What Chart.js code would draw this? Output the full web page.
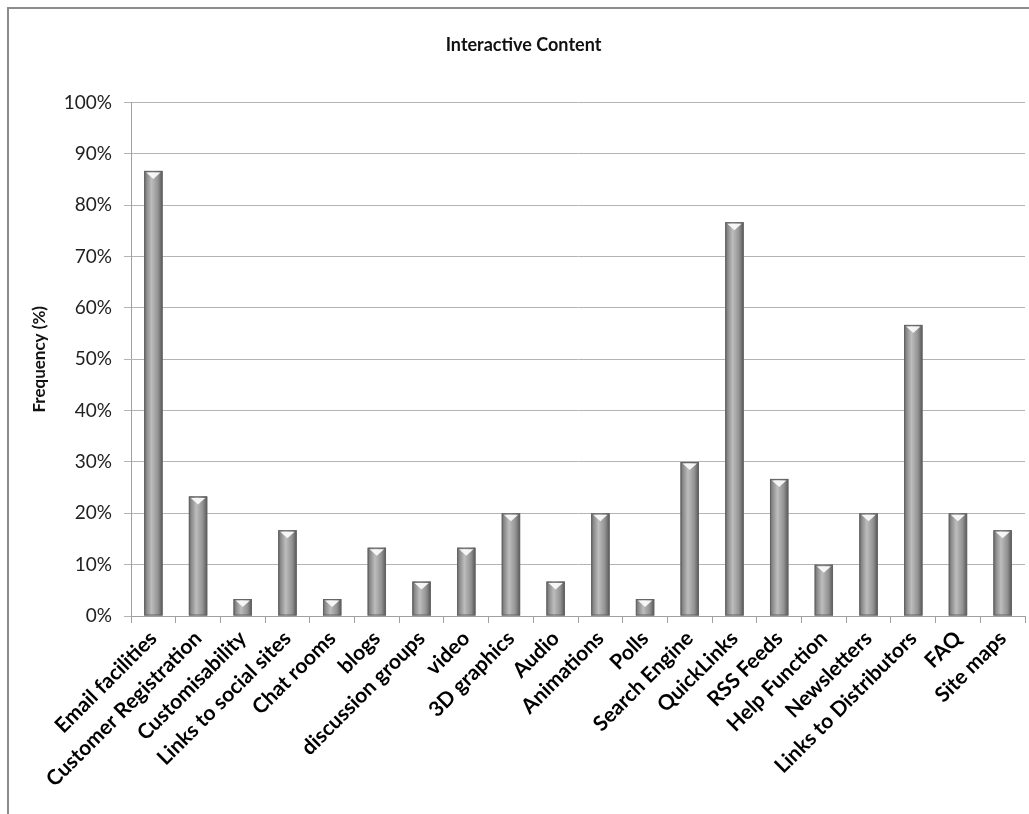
<!DOCTYPE html>
<html>
<head>
<meta charset="utf-8">
<script src="https://cdn.jsdelivr.net/npm/chart.js@4"></script>
<style>
  body { margin: 0; background: #fff; overflow: hidden; }
  #frame { position: absolute; left: 7px; top: 7px; width: 1100px; height: 900px; border: 2px solid #8c8c8c; }
  #wrap { position: absolute; left: 0; top: 0; width: 1029px; height: 814px; }
</style>
</head>
<body>
<div id="frame"></div>
<div id="wrap"><canvas id="chart"></canvas></div>
<script>
// data
const categories = ['Email facilities', 'Customer Registration', 'Customisability', 'Links to social sites',
    'Chat rooms', 'blogs', 'discussion groups', 'video', '3D graphics', 'Audio', 'Animations', 'Polls',
    'Search Engine', 'QuickLinks', 'RSS Feeds', 'Help Function', 'Newsletters', 'Links to Distributors',
    'FAQ', 'Site maps'];
const frequency = [86.7, 23.3, 3.3, 16.7, 3.3, 13.3, 6.7, 13.3, 20, 6.7, 20, 3.3, 30, 76.7, 26.7, 10, 20, 56.7, 20, 16.7];
const yTicks = [0, 10, 20, 30, 40, 50, 60, 70, 80, 90, 100];

const FONT = 'Lato, "Open Sans", sans-serif';

// paints the cylinder look over each bar
const cylinderBars = {
    id: 'cylinderBars',
    afterDatasetsDraw(chart) {
        const ctx = chart.ctx;
        chart.getDatasetMeta(0).data.forEach(bar => {
            const left = bar.x - bar.width / 2;
            const right = bar.x + bar.width / 2;
            const top = bar.y;
            const bottom = bar.base;
            const g = ctx.createLinearGradient(left, 0, right, 0);
            g.addColorStop(0, '#666');
            g.addColorStop(0.12, '#888');
            g.addColorStop(0.4, '#bdbdbd');
            g.addColorStop(0.75, '#939393');
            g.addColorStop(1, '#575757');
            ctx.save();
            ctx.fillStyle = g;
            ctx.fillRect(left, top, right - left, bottom - top);
            ctx.strokeStyle = '#646464';
            ctx.lineWidth = 1;
            ctx.strokeRect(left + 0.5, top + 0.5, right - left - 1, bottom - top - 1);
            // light cap
            ctx.fillStyle = 'rgba(250,250,250,0.95)';
            ctx.beginPath();
            ctx.moveTo(left + 2, top + 1.5);
            ctx.lineTo(right - 2, top + 1.5);
            ctx.lineTo(bar.x, top + 8);
            ctx.closePath();
            ctx.fill();
            ctx.restore();
        });
    }
};

new Chart(document.getElementById('chart'), {
    type: 'bar',
    data: {
        labels: categories,
        datasets: [{
            label: 'Frequency',
            data: frequency,
            backgroundColor: '#9a9a9a',
            borderWidth: 0,
            barPercentage: 0.41,
            categoryPercentage: 1
        }]
    },
    options: {
        responsive: true,
        maintainAspectRatio: false,
        animation: false,
        layout: { padding: { left: 22, top: 34, right: 4, bottom: 0 } },
        plugins: {
            legend: { display: false },
            tooltip: { enabled: false },
            title: {
                display: true,
                text: 'Interactive Content',
                color: '#111',
                font: { family: FONT, size: 18, weight: 'bold' },
                padding: { top: 0, bottom: 47 }
            }
        },
        scales: {
            x: {
                grid: { display: true, drawOnChartArea: false, offset: true, tickLength: 7, color: '#a0a0a0' },
                border: { color: '#a0a0a0' },
                ticks: {
                    color: '#000',
                    maxRotation: 45,
                    minRotation: 45,
                    autoSkip: false,
                    padding: 3,
                    font: { family: FONT, size: 21, weight: 'bold' }
                },
                afterFit(scale) { scale.height = 198; }
            },
            y: {
                min: 0,
                max: 100,
                afterBuildTicks(scale) { scale.ticks = yTicks.map(v => ({ value: v })); },
                grid: { color: '#b4b4b4', tickLength: 7 },
                border: { color: '#a0a0a0' },
                ticks: {
                    color: '#222',
                    padding: 12,
                    font: { family: FONT, size: 19 },
                    callback: v => v + '%'
                },
                title: {
                    display: true,
                    text: 'Frequency (%)',
                    color: '#111',
                    font: { family: FONT, size: 17, weight: 'bold' },
                    padding: { top: 7, bottom: 8 }
                },
                afterFit(scale) { scale.width = 109; }
            }
        }
    },
    plugins: [cylinderBars]
});
</script>
</body>
</html>
